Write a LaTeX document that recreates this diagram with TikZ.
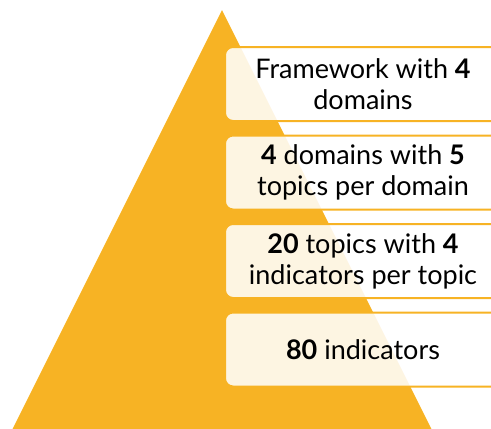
\documentclass[tikz,border=0pt]{standalone}
\usepackage{fontspec}
\setmainfont{Lato}
\usetikzlibrary{positioning}
\definecolor{pyrOrange}{RGB}{247,179,36}

\begin{document}
\begin{tikzpicture}[x=1pt, y=-1pt,
  level/.style={draw=pyrOrange, line width=2pt, fill=white, fill opacity=0.87,
    text opacity=1, rounded corners=8pt, minimum width=276pt,
    minimum height=74pt, align=center, inner sep=0pt,
    font=\fontsize{27}{31}\selectfont}]
\useasboundingbox (0,0) rectangle (491,429);

% Pyramid
\fill[pyrOrange] (222,10) -- (434.5,435) -- (9.5,435) -- cycle;

% Levels
\node[level] (frame) at (363,84) {Framework with \textbf{4}\\domains};
\node[level, below=12.5pt of frame] (domains) {\textbf{4} domains with \textbf{5}\\topics per domain};
\node[level, below=12.5pt of domains] (topics) {\textbf{20} topics with \textbf{4}\\indicators per topic};
\node[level, below=12.5pt of topics] (indicators) {\textbf{80} indicators};
\end{tikzpicture}
\end{document}
